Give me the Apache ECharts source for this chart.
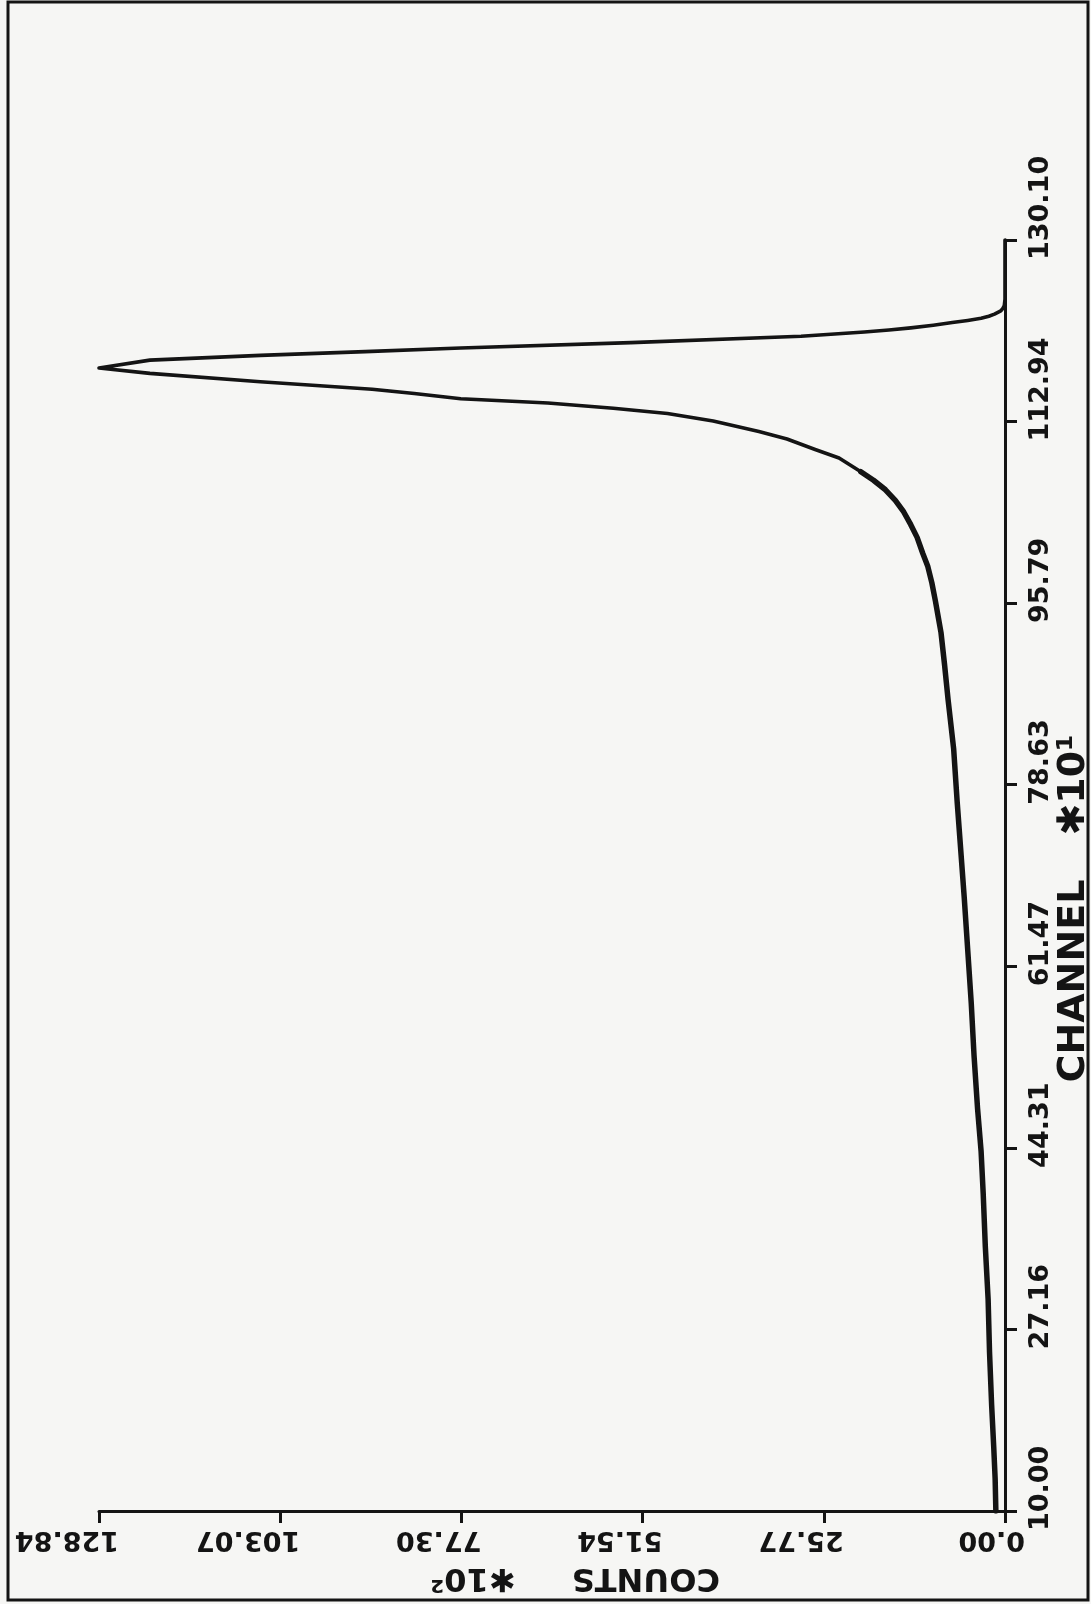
<!DOCTYPE html>
<html>
<head>
<meta charset="utf-8">
<title>Pulse height spectrum</title>
<script src="https://cdn.jsdelivr.net/npm/echarts@6/dist/echarts.min.js"></script>
<style>
  html, body { margin: 0; padding: 0; background: #f6f6f4; }
  #chart { width: 1091px; height: 1604px; }
</style>
</head>
<body>
<div id="chart"></div>
<script>
// Spectrum samples: channel (x10^1) and counts (x10^2)
const channel = [10.0, 13.0, 16.0, 20.0, 25.0, 30.0, 35.0, 40.0, 44.0, 48.0,
                 53.0, 58.0, 63.0, 68.0, 72.5, 77.0, 82.0, 86.7, 90.0, 93.0,
                 94.5, 96.0, 97.7, 99.3, 100.5, 102.0, 103.2, 104.4, 105.5, 106.5,
                 107.4, 108.2, 109.5, 110.3, 111.3, 112.0, 113.0, 113.7, 114.2, 114.7,
                 115.1, 115.6, 116.0, 116.7, 117.5, 118.0,
                 118.75, 119.2, 119.55, 119.9, 120.4, 121.0, 121.4, 121.6, 121.8, 122.05,
                 122.3, 122.5, 122.7, 122.9, 123.1, 123.4, 123.65, 123.9, 124.5, 130.1];
const counts = [1.3, 1.4, 1.6, 1.9, 2.2, 2.4, 2.8, 3.1, 3.4, 3.9,
                4.4, 4.8, 5.3, 5.8, 6.3, 6.8, 7.3, 8.1, 8.6, 9.1,
                9.5, 9.9, 10.4, 11.0, 11.7, 12.5, 13.4, 14.4, 15.6, 17.0,
                18.7, 20.5, 23.6, 27.0, 31.0, 35.0, 41.5, 48.0, 55.7, 65.0,
                77.4, 84.0, 90.0, 105.9, 121.6, 128.84,
                121.6, 105.9, 91.0, 77.4, 53.2, 29.0, 20.0, 16.5, 13.4, 10.2,
                7.5, 5.3, 3.4, 2.3, 1.5, 0.6, 0.3, 0.1, 0.0, 0.0];

// Axis tick values
const channelTicks = [10.00, 27.16, 44.31, 61.47, 78.63, 95.79, 112.94, 130.10];
const countTicks = [0.00, 25.77, 51.54, 77.30, 103.07, 128.84];

// The noisy low-energy tail is drawn heavier than the peak
const TAIL_LAST = 31;

const INK = '#141414';
const FONT = '"DejaVu Sans", sans-serif';
const TICK_SIZE = 27;
const NAME_Y_SIZE = 38;
const NAME_X_SIZE = 32;
const LEAD = 20; // tick labels begin this far before their tick

const measureCtx = document.createElement('canvas').getContext('2d');
function textWidth(str, size) {
  measureCtx.font = 'bold ' + size + 'px ' + FONT;
  return measureCtx.measureText(str).width;
}

function styleKey(s) { return 'p' + s.replace('.', '_'); }

function tickRich(ticks) {
  const rich = { v: { fontSize: TICK_SIZE, fontFamily: FONT, fontWeight: 'bold', color: INK } };
  ticks.forEach(function (t) {
    const s = t.toFixed(2);
    rich[styleKey(s)] = {
      width: Math.max(0, textWidth(s, TICK_SIZE) - 2 * LEAD),
      fontSize: TICK_SIZE, fontFamily: FONT
    };
  });
  return rich;
}
function tickFormatter(v) {
  const s = v.toFixed(2);
  return '{' + styleKey(s) + '| }{v|' + s + '}';
}

function nameRich(size, word, unit, gap, startOffset) {
  const w = textWidth(word, size) + gap + textWidth(unit, size);
  const base = { fontSize: size, fontFamily: FONT, fontWeight: 'bold', color: INK };
  return {
    n: base,
    g: { width: gap, fontSize: size, fontFamily: FONT },
    s: { width: Math.max(0, 2 * startOffset - w), fontSize: size, fontFamily: FONT }
  };
}

const series = [
  { idx: [0, TAIL_LAST + 1], width: 5.5 },
  { idx: [TAIL_LAST, channel.length], width: 3.6 }
].map(function (part) {
  const data = [];
  for (let i = part.idx[0]; i < part.idx[1]; i++) data.push([counts[i], channel[i]]);
  return {
    type: 'line',
    data: data,
    showSymbol: false,
    symbol: 'none',
    smooth: false,
    silent: true,
    lineStyle: { color: INK, width: part.width, join: 'round', cap: 'round' }
  };
});

const chart = echarts.init(document.getElementById('chart'), null, { renderer: 'canvas' });
chart.setOption({
  animation: false,
  backgroundColor: '#f6f6f4',
  grid: { left: 99, right: 86, top: 240, bottom: 93, containLabel: false, outerBoundsMode: 'none' },
  graphic: [{
    type: 'rect', silent: true, z: -1,
    shape: { x: 8, y: 2, width: 1080, height: 1598 },
    style: { fill: 'transparent', stroke: INK, lineWidth: 3 }
  }],
  xAxis: {
    type: 'value',
    min: 0, max: 128.84,
    inverse: true,
    position: 'bottom',
    splitLine: { show: false },
    axisLine: { show: true, onZero: false, lineStyle: { color: INK, width: 3 } },
    axisTick: { show: true, customValues: countTicks, length: 12, lineStyle: { color: INK, width: 3 } },
    axisLabel: {
      customValues: countTicks,
      rotate: 180, align: 'center', verticalAlign: 'bottom', margin: 15,
      formatter: tickFormatter, rich: tickRich(countTicks)
    },
    name: '{n|COUNTS}{g| }{n|✱10²}{s| }',
    nameLocation: 'middle', nameRotate: 180, nameGap: 50, nameMoveOverlap: false,
    nameTextStyle: {
      align: 'center', verticalAlign: 'bottom',
      rich: nameRich(NAME_X_SIZE, 'COUNTS', '✱10²', 56, 168)
    }
  },
  yAxis: {
    type: 'value',
    min: 10, max: 130.10,
    position: 'right',
    splitLine: { show: false },
    axisLine: { show: true, onZero: false, lineStyle: { color: INK, width: 3 } },
    axisTick: { show: true, customValues: channelTicks, length: 12, lineStyle: { color: INK, width: 3 } },
    axisLabel: {
      customValues: channelTicks,
      rotate: 90, align: 'center', verticalAlign: 'top', margin: 22,
      formatter: tickFormatter, rich: tickRich(channelTicks)
    },
    name: '{n|CHANNEL}{g| }{n|✱10¹}{s| }',
    nameLocation: 'middle', nameRotate: 90, nameGap: 50, nameMoveOverlap: false,
    nameTextStyle: {
      align: 'center', verticalAlign: 'top',
      rich: nameRich(NAME_Y_SIZE, 'CHANNEL', '✱10¹', 44, 207)
    }
  },
  series: series
});
</script>
</body>
</html>
